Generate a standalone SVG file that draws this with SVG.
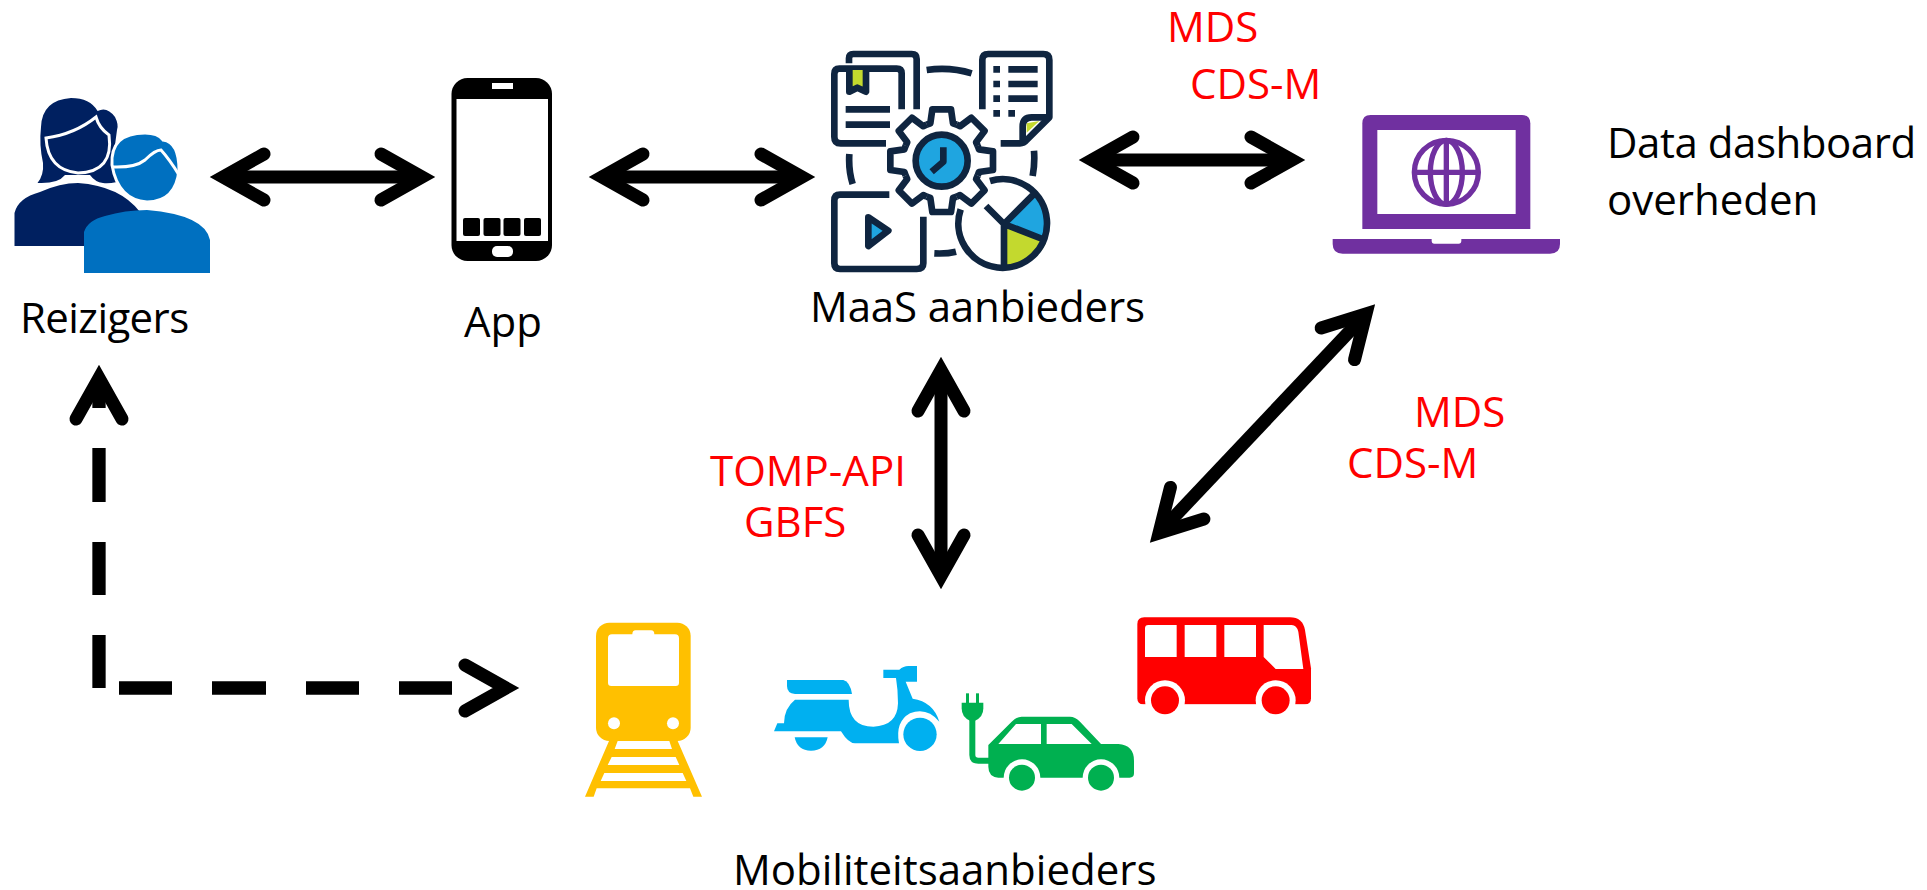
<svg xmlns="http://www.w3.org/2000/svg" width="1927" height="890" viewBox="0 0 1927 890">
<style>
text{font-family:"Open Sans","Liberation Sans",sans-serif;font-size:42px;fill:#000}
.red{fill:#f00}
.arr{fill:none;stroke:#000;stroke-width:13;marker-start:url(#ah);marker-end:url(#ah)}
.dash{fill:none;stroke:#000;stroke-width:13.3}
.tip{fill:none;stroke:none;marker-end:url(#ah)}
.m{fill:none;stroke:#0f2540;stroke-width:20;stroke-linejoin:round}
</style>
<defs>
<marker id="ah" markerUnits="userSpaceOnUse" markerWidth="80" markerHeight="80" refX="55" refY="40" orient="auto-start-reverse" overflow="visible">
<path d="M14,17 L55,40 L14,63" fill="none" stroke="#000" stroke-width="13" stroke-linecap="round" stroke-linejoin="miter" stroke-miterlimit="6"/>
</marker>
<path id="tooth" d="M380,314 L391,310 L397,268 H453 L459,310 L470,314" class="m"/>
</defs>
<g id="connectors">
<path class="arr" d="M223,177 H422"/>
<path class="arr" d="M602,177 H802"/>
<path class="arr" d="M1092,160 H1292"/>
<path class="arr" d="M941,370 V576"/>
<path class="arr" d="M1366,314 L1159,533"/>
<path class="dash" d="M99,378 V408 M99,448 V502 M99,542 V595 M99,635 V688"/>
<path class="dash" d="M119,688 H172 M212,688 H266 M306,688 H359 M399,688 H452"/>
<path class="tip" d="M99,390 V378"/>
<path class="tip" d="M495,688 H506"/>
</g>
<g id="reizigers">
<path fill="#002060" d="M37.500,183 Q44,175 43,163 Q39,145 41,127 Q42,100 71,98 Q90,98 97.600,111 Q107,106 115,117 Q119,125 117,130 L113,160 L117,182 Q108,184 103,183 Q95,182 90,175 H65 Q58,184 37.500,183 Z"/>
<path fill="#002060" d="M14.500,246 V213 Q18,198 40,192 Q60,183 78,183 Q120,186 140,212 V246 Z"/>
<path fill="none" stroke="#fff" stroke-width="3" d="M46,138 Q75,134 96,117 Q99,128 109,135 Q114,172 78,173 Q48,170 46,138 Z"/>
<g stroke="#fff" stroke-width="3" fill="#0070c0">
<path d="M112,165 Q110,133 145,133 Q158,133 163,140 Q179,142 179,170 Q176,202 147,202 Q118,200 112,165 Z"/>
<path d="M84,273 V232 Q88,220 105,216 Q125,210 147,210 Q205,215 210,240 V273 Z" stroke="none"/>
</g>
<path fill="none" stroke="#fff" stroke-width="3" d="M112,167 Q135,168 145,160 Q155,150 161,150 Q170,160 179,175"/>
<text x="20" y="333" letter-spacing="-.6">Reizigers</text>
</g>
<g id="app">
<rect x="451.500" y="78" width="100.500" height="183" rx="16"/>
<rect x="456.500" y="99" width="91.500" height="142" fill="#fff"/>
<rect x="492" y="83" width="21" height="6" fill="#fff"/>
<rect x="492" y="246" width="21" height="11" rx="5" fill="#fff"/>
<rect x="463" y="218" width="17" height="18" rx="2"/><rect x="483.500" y="218" width="17" height="18" rx="2"/><rect x="503.500" y="218" width="17" height="18" rx="2"/><rect x="524" y="218" width="17" height="18" rx="2"/>
<text x="464" y="337">App</text>
</g>
<g id="maas">
<g transform="translate(800,20) scale(.33333)">
<path class="m" d="M147,130 V115 Q147,102 160,102 H335 Q350,102 350,117 V268"/>
<path class="m" d="M305,268 V160 Q305,146 290,146 H118 Q103,146 103,162 V350 Q103,370 122,370 H258"/>
<path class="m" style="fill:#c3d92e" d="M148,150 V215 L172,203 L198,215 V150"/>
<path class="m" d="M137,268 H270 M137,314 H270 M380,150 Q450,140 515,160"/>
<path class="m" d="M547,268 V120 Q547,102 565,102 H730 Q748,102 748,120 V292 L680,360 Q672,370 660,370 H602"/>
<path class="m" d="M668,365 V320 Q668,292 695,292 H748"/>
<path fill="#c3d92e" d="M680,310 L718,303 L680,338 Z"/>
<path class="m" d="M580,148 H600 M580,192 H600 M580,236 H600 M580,280 H600 M625,280 H645 M625,148 H713 M625,192 H713 M625,236 H713"/>
<path class="m" d="M148,402 Q145,450 158,492 M702,392 Q705,430 698,468 M403,700 Q440,702 468,695"/>
<use href="#tooth"/><use href="#tooth" transform="rotate(45 425 422)"/><use href="#tooth" transform="rotate(90 425 422)"/><use href="#tooth" transform="rotate(135 425 422)"/><use href="#tooth" transform="rotate(180 425 422)"/><use href="#tooth" transform="rotate(225 425 422)"/><use href="#tooth" transform="rotate(270 425 422)"/><use href="#tooth" transform="rotate(315 425 422)"/>
<circle cx="425" cy="422" r="78" class="m" style="fill:#1fa5e0"/>
<path class="m" d="M430,382 V425 L395,455"/>
<path class="m" d="M268,524 H120 Q103,524 103,542 V730 Q103,747 120,747 H350 Q370,747 370,730 V590"/>
<path class="m" style="fill:#1fa5e0" d="M205,592 L265,632 L205,678 Z"/>
<path fill="#1fa5e0" d="M612,612 L705,520 A133,133 0 0 1 738,656 Z"/>
<path fill="#c3d92e" d="M612,612 L738,670 A133,133 0 0 1 612,745 Z"/>
<path class="m" d="M570,483 A133,133 0 1 1 482,568 M612,612 L700,524 M612,612 L735,660 M612,612 V745 M612,612 L558,558"/>
</g>
<text x="810" y="322" letter-spacing="-.15">MaaS aanbieders</text>
</g>
<g id="dashboard">
<g transform="translate(1300,90) scale(.33333)">
<path fill="#7030a0" d="M187,417 V100 Q187,75 212,75 H666 Q691,75 691,100 V417 Z"/>
<rect x="232" y="120" width="415" height="252" fill="#fff"/>
<g fill="none" stroke="#7030a0" stroke-width="16"><circle cx="439" cy="247" r="96"/><ellipse cx="439" cy="247" rx="48" ry="96"/><path d="M439,151 V343 M343,247 H535"/></g>
<path fill="#7030a0" d="M98,447 H395 V452 Q395,461 403,461 H476 Q484,461 484,452 V447 H780 V462 Q780,491 750,491 H128 Q98,491 98,462 Z"/>
</g>
<text x="1607" y="158" letter-spacing="-.45">Data dashboard</text>
<text x="1607" y="215">overheden</text>
</g>
<g id="mobiliteit">
<g transform="translate(570,600) scale(.33333)" fill="#ffc000">
<rect x="78" y="68" width="284" height="355" rx="40"/>
<path fill="#fff" d="M114,115 Q114,103 126,103 H187 Q187,91 197,91 H243 Q253,91 253,103 H315 Q327,103 327,115 V248 Q327,258 317,258 H124 Q114,258 114,248 Z"/>
<circle cx="132" cy="370" r="18" fill="#fff"/><circle cx="309" cy="370" r="18" fill="#fff"/>
<path d="M117,423 L45,590 H71 L80,565 H360 L370,590 H396 L323,423 Z"/>
<path fill="#fff" d="M143,423 H298 L306,447 H134 Z M125,471 H317 L328,495 H113 Z M103,519 H338 L349,543 H92 Z"/>
</g>
<g transform="translate(760,600) scale(.33333)" fill="#00b0f0">
<path d="M81,240 H250 Q270,245 276,282 H105 Q81,280 81,258 Z"/>
<path d="M105,299 H266 Q266,380 340,380 Q412,378 414,310 Q414,270 408,234 H370 V209 H418 Q430,198 445,198 H471 V245 H437 L458,296 Q520,305 538,365 Q500,320 450,340 Q405,365 417,430 H285 Q265,430 243,394 H42 L52,370 H72 Q72,325 105,299 Z"/>
<circle cx="480" cy="403" r="50"/>
<path d="M104,412 H203 Q195,452 153,452 Q112,452 104,412 Z"/>
</g>
<g transform="translate(760,600) scale(.33333)" fill="#00b050">
<path d="M685,435 L755,365 Q770,350 785,350 H930 Q945,350 960,365 L1023,432 H1075 Q1122,435 1122,482 V520 Q1122,533 1109,533 H715 Q685,530 685,500 Z"/>
<circle cx="786" cy="533" r="55" fill="#fff"/><circle cx="1023" cy="533" r="55" fill="#fff"/>
<circle cx="786" cy="533" r="39"/><circle cx="1023" cy="533" r="39"/>
<path fill="#fff" d="M715,432 L768,372 H843 V432 Z M860,372 H935 L995,432 H860 Z"/>
<path fill="none" stroke="#00b050" stroke-width="18" d="M637,360 V465 Q637,482 655,482 H690"/>
<path d="M605,308 H670 V325 Q670,352 645,362 H630 Q605,352 605,325 Z"/>
<rect x="618" y="280" width="9" height="30"/><rect x="648" y="280" width="9" height="30"/>
</g>
<g transform="translate(1110,600) scale(.33333)" fill="#f00">
<path d="M82,72 Q82,52 103,52 H540 Q578,52 585,90 L603,205 V295 Q603,313 585,313 H100 Q82,313 82,295 Z"/>
<circle cx="165" cy="301" r="60" fill="#fff"/><circle cx="497" cy="301" r="60" fill="#fff"/>
<rect x="60" y="314" width="560" height="40" fill="#fff"/>
<circle cx="165" cy="301" r="42"/><circle cx="497" cy="301" r="42"/>
<path fill="#fff" d="M105,85 Q105,75 115,75 H200 V171 H105 Z M224,75 H319 V171 H224 Z M343,75 H438 V171 H343 Z M461,75 H545 Q560,75 565,95 L580,207 H497 L461,171 Z"/>
</g>
<text x="733" y="885">Mobiliteitsaanbieders</text>
</g>
<g id="labels">
<text class="red" x="1167" y="42">MDS</text>
<text class="red" x="1190" y="99">CDS-M</text>
<text class="red" x="1414" y="427">MDS</text>
<text class="red" x="1347" y="478">CDS-M</text>
<text class="red" x="710" y="486">TOMP-API</text>
<text class="red" x="744" y="537">GBFS</text>
</g>
</svg>
